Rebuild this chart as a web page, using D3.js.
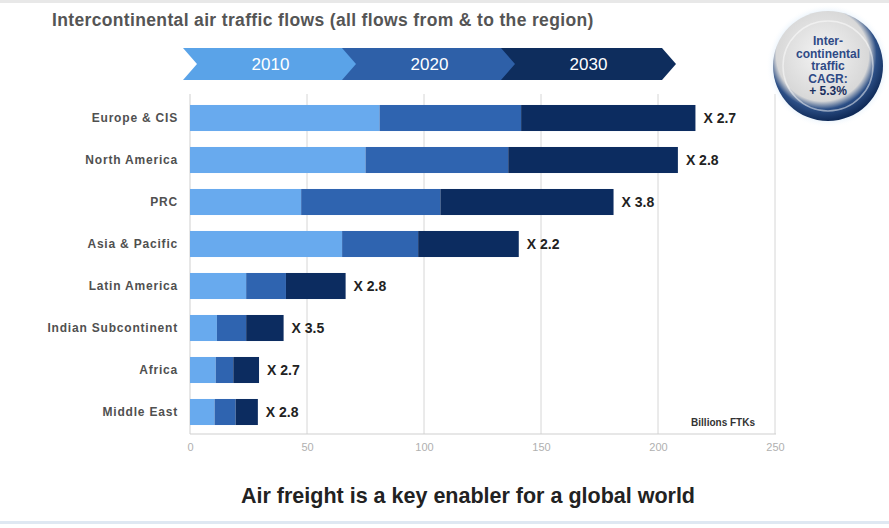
<!DOCTYPE html>
<html>
<head>
<meta charset="utf-8">
<script src="https://cdn.jsdelivr.net/npm/d3@7/dist/d3.min.js"></script>
<style>
  html, body { margin: 0; padding: 0; background: #fff; }
  svg { display: block; font-family: "Liberation Sans", Arial, sans-serif; }
</style>
</head>
<body>
<div id="chart"></div>
<script>
// regions, top to bottom
const regions = ['Europe & CIS', 'North America', 'PRC', 'Asia & Pacific', 'Latin America', 'Indian Subcontinent', 'Africa', 'Middle East'];
// billions FTKs per year
const v2010 = [81, 75, 47.5, 65, 24, 11.5, 11, 10.5];
const v2020 = [141.5, 136, 107, 97.5, 41, 24, 18.5, 19.5];
const v2030 = [216, 208.5, 181, 140.5, 66.5, 40, 29.5, 29];
const growth = ['X 2.7', 'X 2.8', 'X 3.8', 'X 2.2', 'X 2.8', 'X 3.5', 'X 2.7', 'X 2.8'];
const years = ['2010', '2020', '2030'];
const xTicks = [0, 50, 100, 150, 200, 250];
const badgeLines = ['Inter-', 'continental', 'traffic', 'CAGR:', '+ 5.3%'];

const W = 889, H = 528;
const colors = ['#68aaee', '#2f64b0', '#0c2c60'];
const arrowColors = ['#5aa3e8', '#2e60a8', '#0e2d5d'];

const svg = d3.select('#chart').append('svg').attr('width', W).attr('height', H);

// faint frame lines
svg.append('rect').attr('x', 0).attr('y', 0).attr('width', W).attr('height', 3).attr('fill', '#e8e8e8');
svg.append('rect').attr('x', 0).attr('y', 521).attr('width', W).attr('height', 3).attr('fill', '#dfe8f2');

svg.append('text')
  .attr('x', 52).attr('y', 26)
  .attr('font-size', 17.5).attr('font-weight', 'bold').attr('fill', '#555')
  .attr('letter-spacing', 0.35)
  .text('Intercontinental air traffic flows (all flows from & to the region)');

const x = d3.scaleLinear().domain([0, 250]).range([190, 775]);
const y = d3.scaleBand().domain(regions).range([97, 433]).paddingInner(0.38).paddingOuter(0.19);

// year chevrons
const chevX = d3.scaleBand().domain(years).range([183, 660]);
const chev = svg.append('g').selectAll('g').data(years).enter().append('g');
chev.append('path')
  .attr('d', (d, i) => {
    const x0 = chevX(d), w = chevX.bandwidth() + 2, t = 48, b = 80, m = (t + b) / 2, n = 14;
    return `M${x0},${t} L${x0 + w},${t} L${x0 + w + n},${m} L${x0 + w},${b} L${x0},${b} L${x0 + n},${m} Z`;
  })
  .attr('fill', (d, i) => arrowColors[i]);
chev.append('text')
  .attr('x', d => chevX(d) + chevX.bandwidth() / 2 + 8)
  .attr('y', 70)
  .attr('text-anchor', 'middle')
  .attr('font-size', 17).attr('fill', '#fff')
  .text(d => d);

// grid
const grid = svg.append('g');
grid.selectAll('line').data(xTicks.slice(1)).enter().append('line')
  .attr('x1', d => x(d)).attr('x2', d => x(d))
  .attr('y1', 94).attr('y2', 434)
  .attr('stroke', '#d6d6d6').attr('stroke-width', 1);
grid.append('line').attr('x1', 190).attr('x2', 190).attr('y1', 94).attr('y2', 434).attr('stroke', '#cfcfcf');
grid.append('line').attr('x1', 190).attr('x2', 776).attr('y1', 434).attr('y2', 434).attr('stroke', '#cfcfcf');

const xAxis = svg.append('g').attr('transform', 'translate(0,434)')
  .call(d3.axisBottom(x).tickValues(xTicks).tickSize(0).tickPadding(9));
xAxis.select('.domain').remove();
xAxis.selectAll('text').attr('fill', '#b0b0b0').attr('font-size', 11).attr('font-family', '"Liberation Sans", Arial, sans-serif');

// stacked bars
const segs = [];
regions.forEach((r, i) => {
  const vals = [0, v2010[i], v2020[i], v2030[i]];
  for (let k = 0; k < 3; k++) segs.push({ r, k, a: vals[k], b: vals[k + 1] });
});
svg.append('g').selectAll('rect').data(segs).enter().append('rect')
  .attr('x', d => x(d.a))
  .attr('width', d => x(d.b) - x(d.a))
  .attr('y', d => y(d.r))
  .attr('height', y.bandwidth())
  .attr('fill', d => colors[d.k]);

// category labels
svg.append('g').selectAll('text').data(regions).enter().append('text')
  .attr('x', 178)
  .attr('y', d => y(d) + y.bandwidth() / 2)
  .attr('dy', '0.35em')
  .attr('text-anchor', 'end')
  .attr('font-size', 12).attr('font-weight', 'bold').attr('fill', '#505050')
  .attr('letter-spacing', 0.8)
  .text(d => d);

// growth labels
svg.append('g').selectAll('text').data(regions).enter().append('text')
  .attr('x', (d, i) => x(v2030[i]) + 8)
  .attr('y', d => y(d) + y.bandwidth() / 2)
  .attr('dy', '0.35em')
  .attr('font-size', 14).attr('font-weight', 'bold').attr('fill', '#222')
  .text((d, i) => growth[i]);

svg.append('text')
  .attr('x', 755).attr('y', 426).attr('text-anchor', 'end')
  .attr('font-size', 10).attr('font-weight', 'bold').attr('fill', '#333')
  .text('Billions FTKs');

// CAGR badge
const defs = svg.append('defs');
const rg = defs.append('radialGradient').attr('id', 'ring').attr('cx', '45%').attr('cy', '40%').attr('r', '60%');
rg.append('stop').attr('offset', '0%').attr('stop-color', '#f4f4f4');
rg.append('stop').attr('offset', '70%').attr('stop-color', '#d8d8d8');
rg.append('stop').attr('offset', '82%').attr('stop-color', '#2c4f86');
rg.append('stop').attr('offset', '100%').attr('stop-color', '#0f2a58');
const glow = defs.append('radialGradient').attr('id', 'glow');
glow.append('stop').attr('offset', '75%').attr('stop-color', '#9cc8f0').attr('stop-opacity', 0.8);
glow.append('stop').attr('offset', '100%').attr('stop-color', '#ffffff').attr('stop-opacity', 0);

svg.append('circle').attr('cx', 828).attr('cy', 66).attr('r', 62).attr('fill', 'url(#glow)');
svg.append('circle').attr('cx', 828).attr('cy', 66).attr('r', 55).attr('fill', 'url(#ring)');
svg.append('circle').attr('cx', 828).attr('cy', 66).attr('r', 45).attr('fill', 'none').attr('stroke', '#ffffff').attr('stroke-opacity', 0.5).attr('stroke-width', 1.5);
svg.append('g').selectAll('text').data(badgeLines).enter().append('text')
  .attr('x', 828)
  .attr('y', (d, i) => 45 + i * 12.5)
  .attr('text-anchor', 'middle')
  .attr('font-size', 12).attr('font-weight', 'bold')
  .attr('fill', (d, i) => i === 4 ? '#1a2f5e' : '#2f4a86')
  .text(d => d);

svg.append('text')
  .attr('x', 468).attr('y', 503)
  .attr('text-anchor', 'middle')
  .attr('font-size', 21.5).attr('font-weight', 'bold').attr('fill', '#222')
  .text('Air freight is a key enabler for a global world');
</script>
</body>
</html>
